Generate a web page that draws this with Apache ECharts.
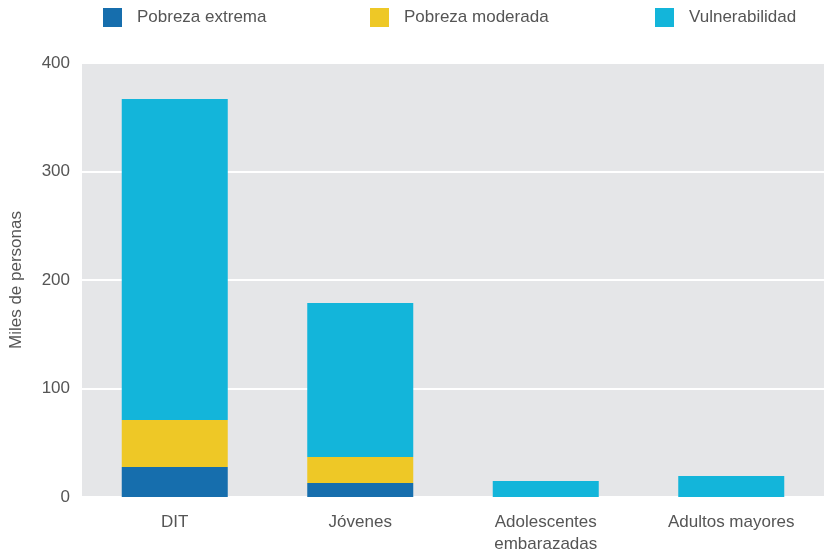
<!DOCTYPE html>
<html>
<head>
<meta charset="utf-8">
<script src="https://cdn.jsdelivr.net/npm/echarts@6/dist/echarts.min.js"></script>
<style>
  html, body { margin: 0; padding: 0; background: #fff; }
  #chart { width: 824px; height: 557px; }
</style>
</head>
<body>
<div id="chart"></div>
<script>
const categories = ["DIT", "Jóvenes", "Adolescentes\nembarazadas", "Adultos mayores"];
const seriesNames = ["Pobreza extrema", "Pobreza moderada", "Vulnerabilidad"];
const extrema = [27.6, 12.9, 0, 0];
const moderada = [43.4, 24, 0, 0];
const vulnerabilidad = [295.8, 141.9, 14.7, 19.4];
const yTicks = [0, 100, 200, 300, 400];

const colors = ["#166ead", "#eec826", "#13b5da"];
const textColor = "#555";
const font = "Liberation Sans";

let chart = echarts.init(document.getElementById("chart"));

const legendLefts = [98, 365, 650];

chart.setOption({
  animation: false,
  color: colors,
  textStyle: { fontFamily: font },
  legend: seriesNames.map((name, i) => ({
    data: [name],
    left: legendLefts[i],
    top: 3,
    icon: "rect",
    itemWidth: 19,
    itemHeight: 19,
    textStyle: { color: textColor, fontSize: 17, fontFamily: font, padding: [0, 0, 0, 10] },
  })),
  grid: {
    left: 82,
    right: 0,
    top: 63,
    bottom: 60,
    show: true,
    backgroundColor: "#e5e6e8",
    borderWidth: 0,
  },
  xAxis: {
    type: "category",
    data: categories,
    axisLine: { show: false },
    axisTick: { show: false },
    axisLabel: {
      color: textColor,
      fontSize: 17,
      margin: 14,
      lineHeight: 22,
      interval: 0,
    },
  },
  yAxis: {
    type: "value",
    min: yTicks[0],
    max: yTicks[yTicks.length - 1],
    interval: 100,
    name: "Miles de personas",
    nameLocation: "middle",
    nameGap: 57,
    nameTextStyle: { color: textColor, fontSize: 17, fontFamily: font },
    axisLine: { show: false },
    axisTick: { show: false },
    axisLabel: { color: textColor, fontSize: 17, margin: 12 },
    splitLine: { show: true, lineStyle: { color: "#ffffff", width: 2 } },
  },
  series: [
    { name: seriesNames[0], type: "bar", stack: "total", barWidth: 106, data: extrema },
    { name: seriesNames[1], type: "bar", stack: "total", barWidth: 106, data: moderada },
    { name: seriesNames[2], type: "bar", stack: "total", barWidth: 106, data: vulnerabilidad },
  ],
});
</script>
</body>
</html>
